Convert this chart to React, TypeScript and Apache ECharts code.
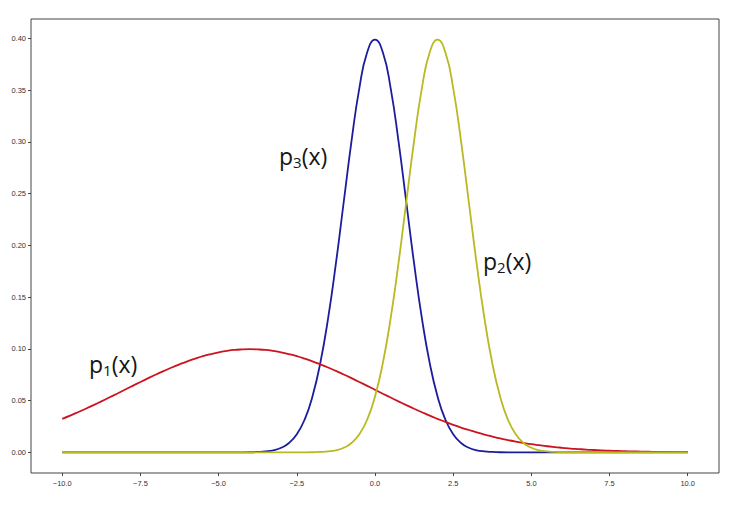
import React, { useEffect, useRef } from "react";
import * as echarts from "echarts";

// x positions of the sampled curves (step 0.25 from -10 to 10)
const xs: number[] = [
  -10, -9.75, -9.5, -9.25, -9, -8.75, -8.5, -8.25,
  -8, -7.75, -7.5, -7.25, -7, -6.75, -6.5, -6.25,
  -6, -5.75, -5.5, -5.25, -5, -4.75, -4.5, -4.25,
  -4, -3.75, -3.5, -3.25, -3, -2.75, -2.5, -2.25,
  -2, -1.75, -1.5, -1.25, -1, -0.75, -0.5, -0.25,
  0, 0.25, 0.5, 0.75, 1, 1.25, 1.5, 1.75,
  2, 2.25, 2.5, 2.75, 3, 3.25, 3.5, 3.75,
  4, 4.25, 4.5, 4.75, 5, 5.25, 5.5, 5.75,
  6, 6.25, 6.5, 6.75, 7, 7.25, 7.5, 7.75,
  8, 8.25, 8.5, 8.75, 9, 9.25, 9.5, 9.75,
  10,
];

// p1(x): wide red curve
const p1: number[] = [
  0.0324, 0.0355, 0.0388, 0.0422, 0.0457, 0.0493, 0.053, 0.0567,
  0.0605, 0.0643, 0.068, 0.0717, 0.0753, 0.0787, 0.082, 0.0851,
  0.088, 0.0906, 0.093, 0.095, 0.0967, 0.098, 0.099, 0.0995,
  0.0997, 0.0995, 0.099, 0.098, 0.0967, 0.095, 0.093, 0.0906,
  0.088, 0.0851, 0.082, 0.0787, 0.0753, 0.0717, 0.068, 0.0643,
  0.0605, 0.0567, 0.053, 0.0493, 0.0457, 0.0422, 0.0388, 0.0355,
  0.0324, 0.0294, 0.0266, 0.024, 0.0216, 0.0193, 0.0172, 0.0153,
  0.0135, 0.0119, 0.0104, 0.0091, 0.0079, 0.0069, 0.0059, 0.0051,
  0.0044, 0.0037, 0.0032, 0.0027, 0.0023, 0.0019, 0.0016, 0.0013,
  0.0011, 0.0009, 0.0008, 0.0006, 0.0005, 0.0004, 0.0003, 0.0003,
  0.0002,
];

// p2(x): yellow curve peaking at x = 2
const p2: number[] = [
  0, 0, 0, 0, 0, 0, 0, 0,
  0, 0, 0, 0, 0, 0, 0, 0,
  0, 0, 0, 0, 0, 0, 0, 0,
  0, 0, 0, 0, 0, 0, 0, 0,
  0.0001, 0.0004, 0.0009, 0.002, 0.0044, 0.0091, 0.0175, 0.0317,
  0.054, 0.0863, 0.1295, 0.1826, 0.242, 0.3011, 0.3521, 0.3867,
  0.3989, 0.3867, 0.3521, 0.3011, 0.242, 0.1826, 0.1295, 0.0863,
  0.054, 0.0317, 0.0175, 0.0091, 0.0044, 0.002, 0.0009, 0.0004,
  0.0001, 0, 0, 0, 0, 0, 0, 0,
  0, 0, 0, 0, 0, 0, 0, 0,
  0,
];

// p3(x): blue curve peaking at x = 0
const p3: number[] = [
  0, 0, 0, 0, 0, 0, 0, 0,
  0, 0, 0, 0, 0, 0, 0, 0,
  0, 0, 0, 0, 0, 0, 0, 0,
  0.0001, 0.0004, 0.0009, 0.002, 0.0044, 0.0091, 0.0175, 0.0317,
  0.054, 0.0863, 0.1295, 0.1826, 0.242, 0.3011, 0.3521, 0.3867,
  0.3989, 0.3867, 0.3521, 0.3011, 0.242, 0.1826, 0.1295, 0.0863,
  0.054, 0.0317, 0.0175, 0.0091, 0.0044, 0.002, 0.0009, 0.0004,
  0.0001, 0, 0, 0, 0, 0, 0, 0,
  0, 0, 0, 0, 0, 0, 0, 0,
  0, 0, 0, 0, 0, 0, 0, 0,
  0,
];

const xTicks: number[] = [-10, -7.5, -5, -2.5, 0, 2.5, 5, 7.5, 10];
const yTicks: number[] = [0, 0.05, 0.1, 0.15, 0.2, 0.25, 0.3, 0.35, 0.4];

const curveLabels = [
  { sub: "1", x: 89, y: 365 },
  { sub: "2", x: 483, y: 262 },
  { sub: "3", x: 279, y: 157 },
];

const fmt = (v: number, d: number) => v.toFixed(d).replace("-", "\u2212");

export default function App() {
  const ref = useRef<HTMLDivElement>(null);
  useEffect(() => {
    if (!ref.current) return;
    document.body.style.margin = "0";
    const chart = echarts.init(ref.current, null, { renderer: "svg" });
    const pairs = (ys: number[]) => xs.map((x, i) => [x, ys[i]]);
    const labelFont = {
      fontFamily: "Liberation Sans",
      fontSize: 7.5,
      color: "#333333",
    };
    chart.setOption({
      animation: false,
      backgroundColor: "#ffffff",
      textStyle: { color: "#333333" },
      grid: {
        left: 31,
        top: 19,
        right: 34,
        bottom: 32,
        show: true,
        borderColor: "#444444",
        borderWidth: 1,
        backgroundColor: "transparent",
      },
      xAxis: {
        type: "value",
        min: -11,
        max: 11,
        axisLine: { show: false, onZero: false },
        splitLine: { show: false },
        axisTick: {
          show: true,
          length: 3,
          customValues: xTicks,
          lineStyle: { color: "#444444" },
        },
        axisLabel: {
          ...labelFont,
          margin: 6,
          customValues: xTicks,
          formatter: (v: number) => fmt(v, 1),
        },
      },
      yAxis: {
        type: "value",
        min: -0.01995,
        max: 0.41888,
        axisLine: { show: false, onZero: false },
        splitLine: { show: false },
        axisTick: {
          show: true,
          length: 3,
          customValues: yTicks,
          lineStyle: { color: "#444444" },
        },
        axisLabel: {
          ...labelFont,
          margin: 5,
          customValues: yTicks,
          formatter: (v: number) => fmt(v, 2),
        },
      },
      series: [
        {
          name: "p3",
          type: "line",
          data: pairs(p3),
          showSymbol: false,
          smooth: true,
          lineStyle: { color: "#1c1c9e", width: 1.8 },
          z: 2,
        },
        {
          name: "p1",
          type: "line",
          data: pairs(p1),
          showSymbol: false,
          smooth: true,
          lineStyle: { color: "#cc1420", width: 1.8 },
          z: 3,
        },
        {
          name: "p2",
          type: "line",
          data: pairs(p2),
          showSymbol: false,
          smooth: true,
          lineStyle: { color: "#b9b922", width: 1.8 },
          z: 4,
        },
      ],
      graphic: curveLabels.map((l) => ({
        type: "text",
        x: l.x,
        y: l.y,
        z: 10,
        style: {
          text: `{n|p}{s|${l.sub}}{n|(x)}`,
          verticalAlign: "middle",
          align: "left",
          rich: {
            n: {
              fontFamily: "Open Sans",
              fontSize: 23,
              lineHeight: 25,
              verticalAlign: "top",
              fill: "#151515",
              color: "#151515",
            },
            s: {
              fontFamily: "Open Sans",
              fontSize: 15,
              lineHeight: 15,
              padding: [12, 0, 0, 0],
              verticalAlign: "bottom",
              fill: "#151515",
              color: "#151515",
            },
          },
        },
      })),
    });
    return () => chart.dispose();
  }, []);
  return (
    <div
      ref={ref}
      style={{ position: "absolute", left: 0, top: 0, width: 753, height: 505 }}
    />
  );
}
